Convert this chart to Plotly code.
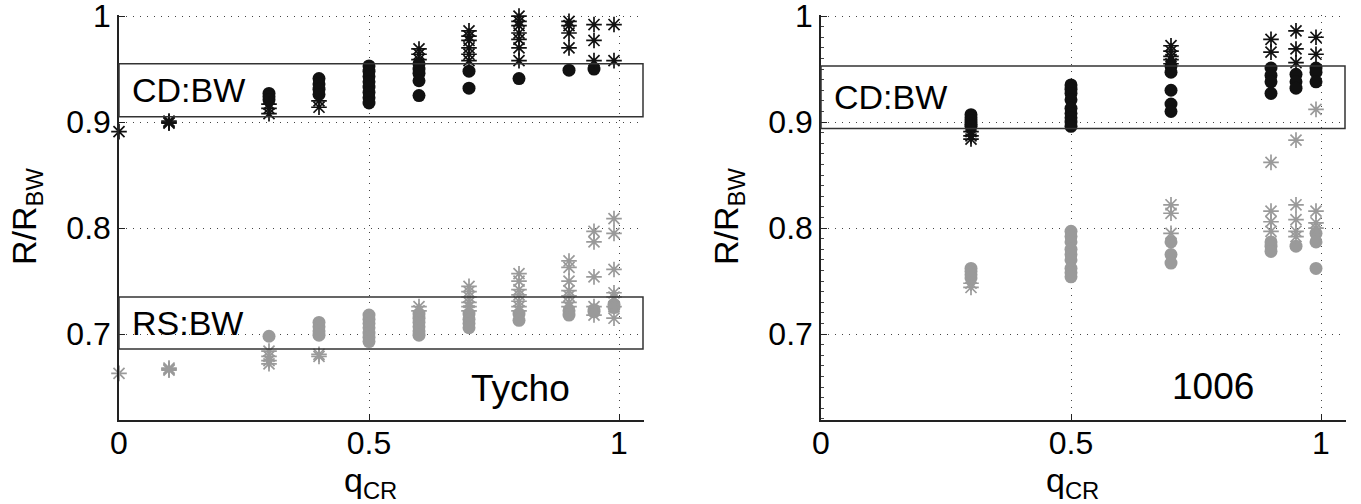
import plotly.graph_objects as go

# ---------------- data ----------------
Q_TYCHO = [0.0, 0.1, 0.3, 0.4, 0.5, 0.6, 0.7, 0.8, 0.9, 0.95, 0.99]
TYCHO_CD_CIRCLES = [[], [], [0.927, 0.924, 0.921], [0.941, 0.936, 0.931, 0.926],
                    [0.953, 0.948, 0.943, 0.938, 0.933, 0.928, 0.923, 0.918],
                    [0.955, 0.950, 0.946, 0.939, 0.925], [0.948, 0.932], [0.941],
                    [0.949], [0.950], []]
TYCHO_CD_STARS = [[0.891], [0.899, 0.900, 0.901], [0.917, 0.913, 0.908], [0.920, 0.914],
                  [], [0.969, 0.964, 0.959], [0.986, 0.981, 0.977, 0.970, 0.964, 0.958],
                  [1.0, 0.995, 0.991, 0.984, 0.978, 0.970, 0.958], [0.995, 0.991, 0.984, 0.970],
                  [0.992, 0.977, 0.958], [0.992, 0.958]]
TYCHO_RS_CIRCLES = [[], [], [0.698], [0.711, 0.707, 0.703, 0.699],
                    [0.718, 0.714, 0.710, 0.706, 0.701, 0.697, 0.693],
                    [0.719, 0.715, 0.711, 0.707, 0.703, 0.699], [0.719, 0.714, 0.710, 0.706],
                    [0.719, 0.713], [0.722, 0.718], [0.723, 0.721], [0.728, 0.725]]
TYCHO_RS_STARS = [[0.663], [0.666, 0.667, 0.668], [0.684, 0.679, 0.675, 0.672], [0.681, 0.679],
                  [], [0.726, 0.722], [0.745, 0.740, 0.735, 0.730, 0.726, 0.722],
                  [0.757, 0.750, 0.742, 0.737, 0.731, 0.726, 0.722],
                  [0.769, 0.763, 0.750, 0.741, 0.736, 0.730, 0.726],
                  [0.797, 0.787, 0.754, 0.726, 0.718],
                  [0.809, 0.795, 0.761, 0.739, 0.735, 0.726, 0.715]]

Q_1006 = [0.3, 0.5, 0.7, 0.9, 0.95, 0.99]
SN1006_CD_CIRCLES = [[0.907, 0.904, 0.901, 0.898, 0.896],
                     [0.935, 0.931, 0.927, 0.921, 0.913, 0.908, 0.904, 0.900, 0.896],
                     [0.953, 0.947, 0.930, 0.917, 0.910], [0.951, 0.944, 0.938, 0.927],
                     [0.945, 0.938, 0.932], [0.951, 0.947, 0.938]]
SN1006_CD_STARS = [[0.891, 0.887, 0.884], [], [0.972, 0.967, 0.962, 0.959, 0.955],
                   [0.978, 0.966], [0.986, 0.969, 0.956], [0.980, 0.964]]
SN1006_RS_CIRCLES = [[0.762, 0.759, 0.756, 0.753],
                     [0.797, 0.792, 0.787, 0.780, 0.775, 0.770, 0.762, 0.758, 0.754],
                     [0.787, 0.775, 0.767], [0.787, 0.783, 0.778], [0.783],
                     [0.795, 0.787, 0.762]]
SN1006_RS_STARS = [[0.748, 0.744], [], [0.822, 0.814, 0.795], [0.862, 0.816, 0.806, 0.797],
                   [0.883, 0.822, 0.808, 0.797, 0.792], [0.912, 0.816, 0.805, 0.800]]

BOX_TYCHO_CD = [0.905, 0.955]
BOX_TYCHO_RS = [0.686, 0.735]
BOX_1006_CD = [0.894, 0.953]
X_RANGE = [0, 1.05]
Y_RANGE = [0.619, 1.001]
Y_TICKS = [0.7, 0.8, 0.9, 1.0]
Y_TICKTEXT = ["0.7", "0.8", "0.9", "1"]
X_TICKS = [0, 0.5, 1]
X_TICKTEXT = ["0", "0.5", "1"]

BLACK = "#111111"
GRAY = "#9a9a9a"


def flatten(qs, groups):
    xs, ys = [], []
    for q, vals in zip(qs, groups):
        for v in vals:
            xs.append(q)
            ys.append(v)
    return xs, ys


fig = go.Figure()


def add_markers(qs, groups, color, symbol, xa, ya):
    xs, ys = flatten(qs, groups)
    if symbol == "circle":
        marker = dict(symbol="circle", size=13, color=color, line=dict(width=0))
    else:
        marker = dict(symbol="asterisk-open", size=13, color=color,
                      line=dict(color=color, width=1.7))
    fig.add_trace(go.Scatter(x=xs, y=ys, mode="markers", marker=marker, cliponaxis=False,
                             xaxis=xa, yaxis=ya, showlegend=False, hoverinfo="skip"))


add_markers(Q_TYCHO, TYCHO_RS_CIRCLES, GRAY, "circle", "x", "y")
add_markers(Q_TYCHO, TYCHO_RS_STARS, GRAY, "star", "x", "y")
add_markers(Q_TYCHO, TYCHO_CD_CIRCLES, BLACK, "circle", "x", "y")
add_markers(Q_TYCHO, TYCHO_CD_STARS, BLACK, "star", "x", "y")

add_markers(Q_1006, SN1006_RS_CIRCLES, GRAY, "circle", "x2", "y2")
add_markers(Q_1006, SN1006_RS_STARS, GRAY, "star", "x2", "y2")
add_markers(Q_1006, SN1006_CD_CIRCLES, BLACK, "circle", "x2", "y2")
add_markers(Q_1006, SN1006_CD_STARS, BLACK, "star", "x2", "y2")

W, H = 1361, 504
L1, R1 = 119, 644
L2, R2 = 821, 1346
TOP, BOT = 15, 420

FONT = "Liberation Sans, Arial, sans-serif"

axis_common = dict(
    showline=True, linecolor="#222222", linewidth=1.5, mirror=False,
    ticks="inside", ticklen=6, tickwidth=1, tickcolor="#222222",
    showgrid=True, gridcolor="#444444", griddash="1px,6px", gridwidth=1,
    zeroline=False, tickfont=dict(family=FONT, size=32, color="black"),
    automargin=False, ticklabeloverflow="allow",
)

fig.update_layout(
    width=W, height=H,
    margin=dict(l=0, r=0, t=0, b=0),
    paper_bgcolor="white", plot_bgcolor="white",
    xaxis=dict(domain=[L1 / W, R1 / W], range=X_RANGE, tickvals=X_TICKS,
               ticktext=X_TICKTEXT, anchor="y", ticklabelstandoff=-6, **axis_common),
    yaxis=dict(domain=[1 - BOT / H, 1 - TOP / H], range=Y_RANGE,
               tickvals=Y_TICKS, ticktext=Y_TICKTEXT, anchor="x", **axis_common),
    xaxis2=dict(domain=[L2 / W, R2 / W], range=X_RANGE, tickvals=X_TICKS,
                ticktext=X_TICKTEXT, anchor="y2", ticklabelstandoff=-6, **axis_common),
    yaxis2=dict(domain=[1 - BOT / H, 1 - TOP / H], range=Y_RANGE,
                tickvals=Y_TICKS, ticktext=Y_TICKTEXT, anchor="x2",
                minor=dict(ticks="inside", ticklen=3, tickcolor="#444444", dtick=0.01,
                           showgrid=False),
                **axis_common),
)

box_line = dict(color="#333333", width=1.5)
for (x0, x1, yr), box in [((L1, R1, "y"), BOX_TYCHO_CD), ((L1, R1, "y"), BOX_TYCHO_RS),
                          ((L2, R2, "y2"), BOX_1006_CD)]:
    fig.add_shape(type="rect", xref="paper", yref=yr, x0=x0 / W, x1=(x1 - 1) / W,
                  y0=box[0], y1=box[1], line=box_line, fillcolor="rgba(0,0,0,0)", layer="above")

box_font = dict(family=FONT, size=34, color="black")
name_font = dict(family=FONT, size=37, color="black")
label_font = dict(family=FONT, size=34, color="black")

fig.add_annotation(x=0.022, y=sum(BOX_TYCHO_CD) / 2, xref="x", yref="y", text="CD:BW",
                   showarrow=False, xanchor="left", yanchor="middle", font=box_font)
fig.add_annotation(x=0.022, y=sum(BOX_TYCHO_RS) / 2, xref="x", yref="y", text="RS:BW",
                   showarrow=False, xanchor="left", yanchor="middle", font=box_font)
fig.add_annotation(x=0.022, y=sum(BOX_1006_CD) / 2, xref="x2", yref="y2", text="CD:BW",
                   showarrow=False, xanchor="left", yanchor="middle", font=box_font)
fig.add_annotation(x=0.700, y=0.649, xref="x", yref="y", text="Tycho",
                   showarrow=False, xanchor="left", yanchor="middle", font=name_font)
fig.add_annotation(x=0.697, y=0.651, xref="x2", yref="y2", text="1006",
                   showarrow=False, xanchor="left", yanchor="middle", font=name_font)

# axis titles
for cx in [370, 1072]:
    fig.add_annotation(x=cx / W, y=1 - 459 / H, xref="paper", yref="paper",
                       text="q<sub>CR</sub>", showarrow=False, xanchor="center",
                       yanchor="top", font=label_font)
for cx in [26, 728]:
    fig.add_annotation(x=cx / W, y=1 - 217 / H, xref="paper", yref="paper",
                       text="R/R<sub>BW</sub>", showarrow=False, textangle=-90,
                       xanchor="center", yanchor="middle", font=label_font)

fig.write_html("out.html", config={"displayModeBar": False},
               post_script="document.body.style.margin='0';"
               "document.body.style.overflow='hidden';")
